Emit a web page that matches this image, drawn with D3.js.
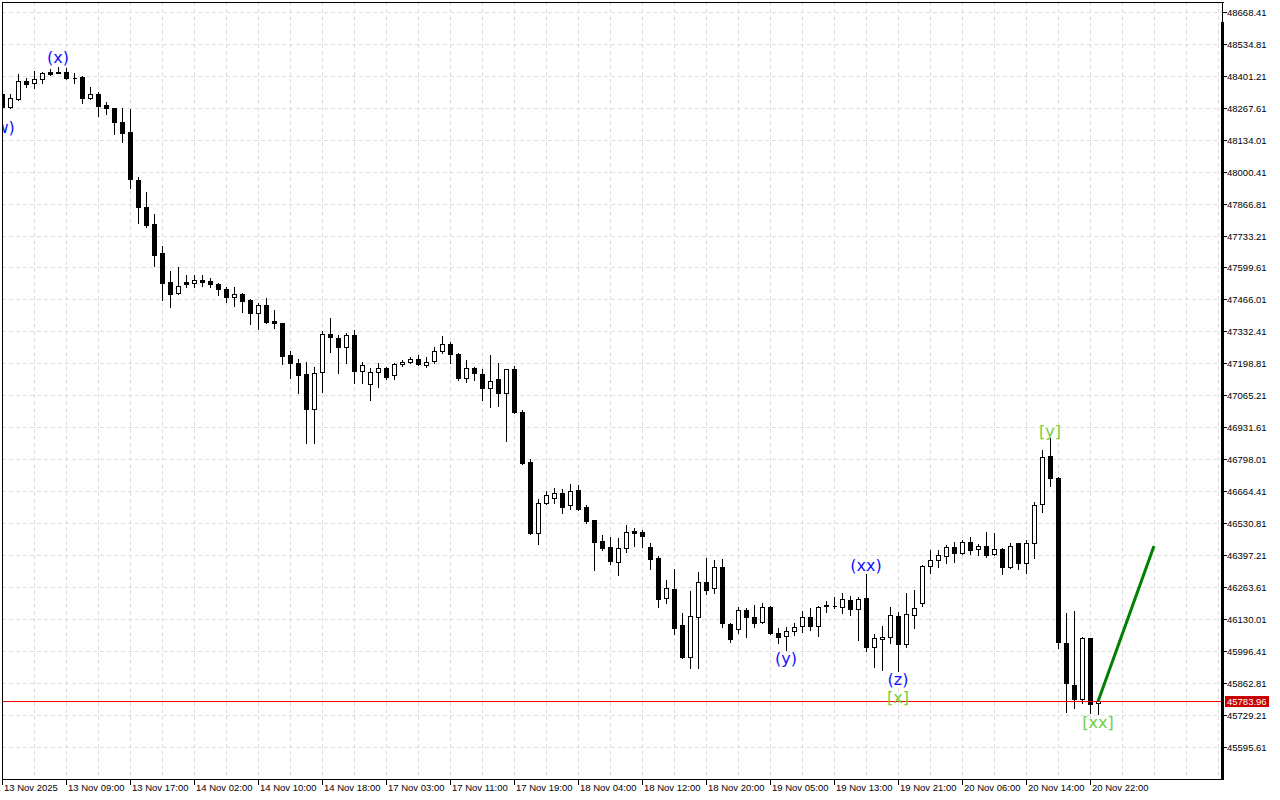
<!DOCTYPE html>
<html><head><meta charset="utf-8">
<script src="https://cdn.jsdelivr.net/npm/d3@7"></script>
<style>html,body{margin:0;padding:0;background:#fff;} svg{display:block;}</style>
</head><body>
<svg id="chart" width="1280" height="800"></svg>
<script>
// ---------- DATA ----------
const timeLabels = ["13 Nov 2025","13 Nov 09:00","13 Nov 17:00","14 Nov 02:00","14 Nov 10:00","14 Nov 18:00",
  "17 Nov 03:00","17 Nov 11:00","17 Nov 19:00","18 Nov 04:00","18 Nov 12:00","18 Nov 20:00",
  "19 Nov 05:00","19 Nov 13:00","19 Nov 21:00","20 Nov 06:00","20 Nov 14:00","20 Nov 22:00"];
const priceTicks = [48668.41,48534.81,48401.21,48267.61,48134.01,48000.41,47866.81,47733.21,47599.61,47466.01,
  47332.41,47198.81,47065.21,46931.61,46798.01,46664.41,46530.81,46397.21,46263.61,46130.01,45996.41,45862.81,
  45729.21,45595.61];
const opens = [48325,48271,48304,48380,48371,48388,48417,48417,48417,48394,48396,48309,48325,48279,48267,48208,48166,47966,47853,47781,
  47660,47539,47493,47539,47535,47547,47543,47531,47510,47476,47489,47464,47409,47443,47376,47367,47233,47200,47154,47008,
  47162,47321,47305,47267,47317,47167,47112,47162,47179,47150,47196,47204,47217,47192,47208,47250,47279,47238,47137,47179,
  47154,47095,47133,47074,47175,46995,46786,46489,46614,46635,46656,46606,46669,46598,46543,46455,46430,46367,46426,46497,
  46493,46430,46384,46217,46255,46104,45970,46137,46284,46259,46347,46108,46087,46167,46137,46116,46179,46070,46058,46079,
  46100,46137,46100,46184,46184,46179,46208,46171,46217,46012,46045,46054,46142,46024,46146,46196,46351,46376,46393,46430,
  46405,46451,46422,46434,46401,46422,46347,46447,46363,46447,46610,46811,46719,46029,45853,45794,46050,45778];
const highs = [48334,48325,48409,48392,48422,48417,48430,48438,48434,48413,48401,48355,48334,48292,48267,48267,48263,47978,47915,47823,
  47689,47585,47602,47568,47568,47568,47556,47535,47518,47518,47493,47468,47451,47472,47422,47367,47250,47217,47204,47183,
  47334,47388,47317,47325,47338,47204,47179,47200,47183,47200,47213,47225,47233,47225,47267,47313,47288,47242,47213,47183,
  47175,47233,47200,47175,47187,47003,46798,46631,46665,46677,46673,46694,46690,46606,46543,46480,46472,46468,46522,46510,
  46501,46447,46393,46292,46338,46154,46246,46326,46384,46376,46380,46112,46179,46175,46188,46196,46184,46091,46095,46112,
  46162,46175,46184,46204,46221,46238,46225,46221,46317,46066,46100,46179,46158,46238,46250,46355,46418,46418,46439,46451,
  46460,46472,46443,46493,46489,46426,46447,46447,46460,46619,46836,46886,46723,46154,46162,46054,46050,45803];
const lows = [48267,48267,48300,48354,48350,48371,48405,48413,48388,48371,48288,48304,48233,48242,48158,48125,47932,47786,47769,47606,
  47464,47434,47489,47518,47518,47522,47518,47485,47455,47439,47413,47363,47342,47367,47346,47196,47138,47074,46866,46865,
  47079,47246,47158,47200,47116,47116,47045,47100,47133,47133,47187,47200,47192,47183,47200,47242,47200,47129,47120,47129,
  47045,47016,47020,46874,46991,46777,46485,46443,46610,46614,46572,46589,46585,46531,46334,46418,46359,46313,46409,46434,
  46430,46338,46179,46196,46066,45966,45924,45924,46234,46238,46095,46033,46070,46054,46095,46112,46066,46029,45999,46062,
  46074,46083,46058,46158,46175,46154,46146,46041,45995,45928,45916,46029,45911,46012,46091,46184,46321,46347,46363,46367,
  46401,46401,46397,46388,46397,46317,46342,46338,46321,46384,46577,46685,46008,45740,45757,45778,45736,45732];
const closes = [48271,48309,48380,48367,48388,48413,48409,48415,48392,48392,48309,48325,48275,48267,48208,48162,47970,47853,47777,47652,
  47535,47489,47522,47531,47547,47539,47531,47510,47476,47489,47459,47409,47443,47371,47367,47229,47200,47150,47008,47158,
  47321,47309,47267,47317,47167,47192,47162,47179,47142,47196,47204,47217,47196,47204,47250,47279,47238,47137,47179,47158,
  47095,47125,47074,47175,46995,46782,46489,46614,46648,46656,46598,46665,46589,46539,46451,46426,46372,46426,46493,46489,
  46476,46380,46213,46259,46091,45970,46142,46284,46250,46347,46112,46045,46167,46137,46112,46179,46070,46054,46079,46095,
  46137,46100,46179,46186,46185,46213,46171,46213,46012,46050,46054,46146,46024,46150,46175,46351,46376,46397,46430,46405,
  46451,46418,46434,46397,46422,46347,46434,46363,46447,46606,46807,46719,46033,45861,45794,46050,45774,45783.96];
const currentPrice = 45783.96;
const waveText  = ["(w)","(x)","(y)","(xx)","(z)","[x]","[y]","[xx]"];
const waveIndex = [0, 7, 98, 108, 112, 112, 131, 137];
const wavePrice = [48187, 48476, 45962, 46351, 45874, 45799, 46915, 45694];
const projIndex = [137, 144];
const projPrice = [45783.96, 46434];

// ---------- LAYOUT ----------
const L = 2, T = 2, R = 1222, B = 779;
const svg = d3.select("#chart");
const x = d3.scaleLinear().domain([0, 152.5]).range([L, R]);
const y = d3.scaleLinear().domain([45595.61, 48668.41]).range([746.5, 12]);
const px = v => Math.round(v);

const defs = svg.append("defs");
defs.append("clipPath").attr("id","plot").append("rect")
  .attr("x", L).attr("y", T).attr("width", R - L).attr("height", B - T);

// grid
const grid = svg.append("g").attr("shape-rendering","crispEdges")
  .attr("stroke","#dedede").attr("stroke-dasharray","4,3").attr("fill","none");
grid.selectAll("line.h").data(priceTicks).join("line").attr("class","h")
  .attr("x1", L).attr("x2", R)
  .attr("y1", d => px(y(d)) + 0.5).attr("y2", d => px(y(d)) + 0.5);
grid.selectAll("line.v").data(d3.range(4, 153, 4)).join("line").attr("class","v")
  .attr("y1", T).attr("y2", B)
  .attr("x1", d => px(x(d)) + 0.5).attr("x2", d => px(x(d)) + 0.5);

// candles
const candles = d3.range(opens.length).map(i => ({i, o: opens[i], h: highs[i], l: lows[i], c: closes[i]}));
const plot = svg.append("g").attr("clip-path","url(#plot)");
const cg = plot.append("g").attr("shape-rendering","crispEdges");
cg.selectAll("line.wick").data(candles).join("line").attr("class","wick")
  .attr("x1", d => px(x(d.i)) + 0.5).attr("x2", d => px(x(d.i)) + 0.5)
  .attr("y1", d => px(y(d.h))).attr("y2", d => px(y(d.l)) + 1)
  .attr("stroke","#000").attr("stroke-width",1);
cg.selectAll("path.body").data(candles).join("path").attr("class","body")
  .attr("d", d => {
    const cx = px(x(d.i));
    const top = px(y(Math.max(d.o, d.c))) + 0.5;
    const bot = px(y(Math.min(d.o, d.c))) + 0.5;
    return `M${cx - 1.5},${top}H${cx + 2.5}V${bot}H${cx - 1.5}Z`;
  })
  .attr("fill", d => d.c >= d.o ? "#fff" : "#000")
  .attr("stroke","#000").attr("stroke-width",1);

// current price line (red)
const cy = px(y(currentPrice));
plot.append("rect")
  .attr("x", L).attr("y", cy).attr("width", R - L).attr("height", 1)
  .attr("fill","#ff0000");

// projection line
plot.append("line")
  .attr("x1", x(projIndex[0])).attr("y1", y(projPrice[0]))
  .attr("x2", x(projIndex[1])).attr("y2", y(projPrice[1]))
  .attr("stroke","#008000").attr("stroke-width",3);

// wave labels
plot.selectAll("text.wave").data(waveText.map((t, k) => ({t, i: waveIndex[k], p: wavePrice[k]}))).join("text")
  .attr("class","wave")
  .attr("x", d => x(d.i)).attr("y", d => y(d.p))
  .attr("text-anchor","middle").attr("dominant-baseline","central")
  .attr("font-family","DejaVu Sans").attr("font-size","16px")
  .attr("fill", d => d.t.startsWith("[") ? "#6fd040" : "#1010ff")
  .text(d => d.t);

// frame
const fr = svg.append("g").attr("shape-rendering","crispEdges").attr("stroke","#000").attr("fill","none");
fr.append("line").attr("x1", L + 0.5).attr("x2", L + 0.5).attr("y1", T).attr("y2", B + 1);
fr.append("line").attr("x1", L).attr("x2", R + 2).attr("y1", T + 0.5).attr("y2", T + 0.5);
fr.append("line").attr("x1", L).attr("x2", R + 2).attr("y1", B + 0.5).attr("y2", B + 0.5);
fr.append("line").attr("x1", R + 0.5).attr("x2", R + 0.5).attr("y1", T).attr("y2", 22);
svg.append("rect").attr("x", R - 1).attr("y", 22).attr("width", 3).attr("height", B - 22 + 1).attr("fill","#000");

// right axis
const ra = svg.append("g");
ra.selectAll("line").data(priceTicks).join("line")
  .attr("x1", R + 1).attr("x2", R + 5)
  .attr("y1", d => px(y(d)) + 0.5).attr("y2", d => px(y(d)) + 0.5)
  .attr("stroke","#000").attr("shape-rendering","crispEdges");
ra.selectAll("text").data(priceTicks).join("text")
  .attr("x", R + 5).attr("y", d => y(d) + 0.5)
  .attr("dominant-baseline","central")
  .attr("font-family","Liberation Sans, Arial, sans-serif").attr("font-size","9.5px").attr("fill","#000")
  .text(d => d.toFixed(2));

// current price tag
svg.append("rect").attr("x", R + 3).attr("y", cy - 5).attr("width", 44).attr("height", 11).attr("fill","#c80000");
svg.append("text").attr("x", R + 5).attr("y", cy + 0.5).attr("dominant-baseline","central")
  .attr("font-family","Liberation Sans, Arial, sans-serif").attr("font-size","9.5px").attr("fill","#fff")
  .text(currentPrice.toFixed(2));

// bottom axis
const ba = svg.append("g");
const labIdx = timeLabels.map((t, k) => ({t, i: k * 8}));
ba.selectAll("line").data(labIdx).join("line")
  .attr("x1", d => px(x(d.i)) + 0.5).attr("x2", d => px(x(d.i)) + 0.5)
  .attr("y1", B).attr("y2", B + 6)
  .attr("stroke","#000").attr("shape-rendering","crispEdges");
ba.selectAll("text").data(labIdx).join("text")
  .attr("x", d => x(d.i) + 2).attr("y", 791)
  .attr("font-family","Liberation Sans, Arial, sans-serif").attr("font-size","9.5px").attr("fill","#000")
  .text(d => d.t);
</script>
</body></html>
